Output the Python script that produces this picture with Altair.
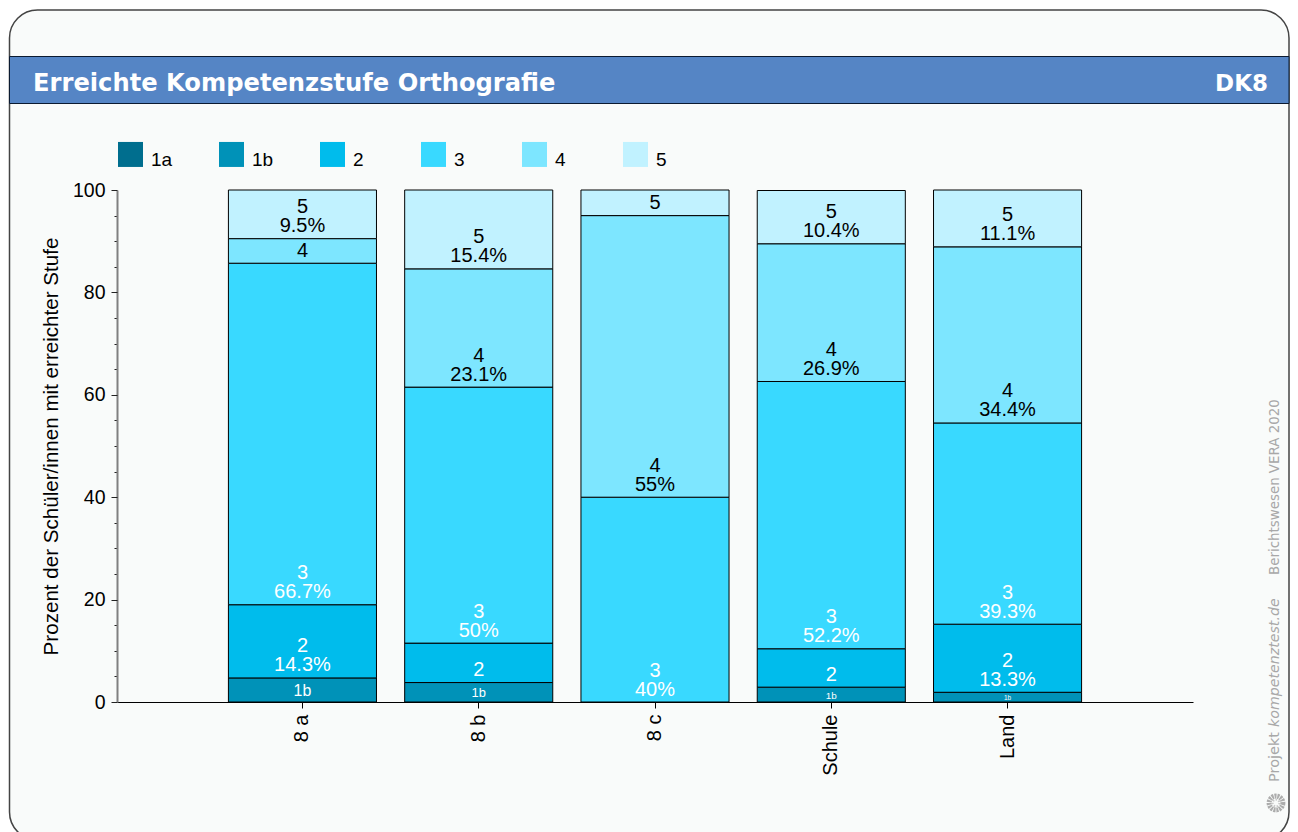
import altair as alt
import pandas as pd

groups = ["8 a", "8 b", "8 c", "Schule", "Land"]
levels = ["1a", "1b", "2", "3", "4", "5"]
level_colors = ["#006e8e", "#0092b8", "#00bcec", "#39d9ff", "#7de6ff", "#c1f2ff"]
shares = {
    "8 a": [0, 4.7, 14.3, 66.7, 4.8, 9.5],
    "8 b": [0, 3.8, 7.7, 50, 23.1, 15.4],
    "8 c": [0, 0, 0, 40, 55, 5],
    "Schule": [0, 2.9, 7.5, 52.2, 26.9, 10.4],
    "Land": [0, 1.9, 13.3, 39.3, 34.4, 11.1],
}
major_ticks = [0, 20, 40, 60, 80, 100]
minor_ticks = [v for v in range(0, 101, 5) if v % 20]

rows = []
for g in groups:
    base = 0
    for lev, v in zip(levels, shares[g]):
        if v > 0:
            rows.append(dict(group=g, level=lev, value=v, y0=base, y1=base + v, ymid=base + v / 2,
                             pct=f"{v:g}%", has_pct=bool(v >= 9)))
        base += v
df = pd.DataFrame(rows)

FONT = "Liberation Sans"
UI = "DejaVu Sans"
PW, PH = 1076, 512
one = alt.Data(values=[{}])

X_AXIS = alt.Axis(title=None, orient="bottom", labelAngle=270, labelFontSize=20, labelFont=FONT, labelColor="black", zindex=1,
                  tickColor="black", tickSize=6, domainColor="black", labelPadding=6, labelBaseline="middle", grid=False)

def X():
    return alt.X("group:N", sort=groups, scale=alt.Scale(domain=groups, paddingInner=0.16, paddingOuter=0.632), axis=X_AXIS)

def Yq(f, **k):
    return alt.Y(f, type="quantitative", scale=alt.Scale(domain=[0, 100], nice=False), **k)

def rect(x, x2, y, y2, **m):
    return alt.Chart(one).mark_rect(**m).encode(
        x=alt.value(x - 117), x2=alt.value(x2 - 117), y=alt.value(y - 190), y2=alt.value(y2 - 190))

def label(txt, x, y, **m):
    return alt.Chart(one).mark_text(font=m.pop("font", UI), **m).encode(
        x=alt.value(x - 117), y=alt.value(y - 190), text=alt.value(txt))

panel = rect(9.5, 1289, 10, 840, fill="#f9fbfa", stroke="#444444", strokeWidth=1.5, cornerRadius=28)
band = rect(9.5, 1289, 56.5, 103.5, fill="#5585c5", stroke="#0b1a30", strokeWidth=1)
title = label("Erreichte Kompetenzstufe Orthografie", 33, 84, align="left", baseline="middle",
              fontSize=24.2, fontWeight="bold", color="white")
code = label("DK8", 1268, 84, align="right", baseline="middle", fontSize=23, fontWeight="bold", color="white")

foot1 = label("Berichtswesen VERA 2020", 1279, 575, angle=270, align="left", baseline="alphabetic", fontSize=13.4, color="#a8a8a8")
foot2 = label("kompetenztest.de", 1279, 727, angle=270, align="left", baseline="alphabetic", fontSize=14.2, fontStyle="italic", color="#a8a8a8")
foot3 = label("Projekt", 1279, 782, angle=270, align="left", baseline="alphabetic", fontSize=14.5, color="#a8a8a8")
logo1 = alt.Chart(one).mark_point(shape="circle", filled=False, size=190, stroke="#8c8c8c", strokeWidth=5, strokeDash=[2, 0.8]).encode(
    x=alt.value(1276 - 117), y=alt.value(803 - 190))
logo2 = alt.Chart(one).mark_point(shape="circle", filled=False, size=45, stroke="#b5b5b5", strokeWidth=2, strokeDash=[1.5, 1.5]).encode(
    x=alt.value(1276 - 117), y=alt.value(803 - 190))

bars = alt.Chart(df).mark_bar(stroke="black", strokeWidth=1).encode(
    x=X(),
    y=Yq("y0", axis=alt.Axis(values=major_ticks, orient="left", title="Prozent der Schüler/innen mit erreichter Stufe", zindex=1,
                             titleFont=FONT, titleFontSize=20.6, titleFontWeight="normal", titleColor="black", titlePadding=11,
                             labelFont=FONT, labelFontSize=19.5, labelColor="black", labelPadding=6,
                             tickColor="#222222", tickSize=6, domain=False, grid=False)),
    y2="y1:Q",
    fill=alt.Fill("level:N", scale=alt.Scale(domain=levels, range=level_colors),
                  legend=alt.Legend(title=None, orient="none", legendX=1, legendY=-42.5, direction="horizontal", columns=6,
                                    gridAlign="all",
                                    symbolType="M-1,-1.464H1V0.536H-1Z", symbolSize=625, symbolStrokeWidth=0,
                                    labelFont=FONT, labelFontSize=19, labelColor="black", labelOffset=8,
                                    columnPadding=46, padding=0)),
)

TEXT_COLOR = alt.condition(alt.FieldOneOfPredicate(field="level", oneOf=["4", "5"]), alt.value("black"), alt.value("white"))

def text_layer(field, selector, dy, size=None, yfield="y0"):
    enc = dict(x=X(), y=Yq(yfield, axis=None), text=f"{field}:N", color=TEXT_COLOR)
    if size is not None:
        enc["size"] = size
    mark = dict(font=FONT, baseline="middle", dy=dy)
    if size is None:
        mark["fontSize"] = 20
    return alt.Chart(df).transform_filter(selector).mark_text(**mark).encode(**enc)

pct_text = text_layer("pct", "datum.has_pct", -12.5)
lvl_upper = text_layer("level", "datum.has_pct", -31.5)
lvl_single = text_layer("level", "!datum.has_pct && datum.level != '1b'", -12.5)
lvl_small = text_layer("level", "!datum.has_pct && datum.level == '1b'", 1, yfield="ymid",
                       size=alt.Size("value:Q", scale=alt.Scale(domain=[0, 5.88], range=[0, 20], clamp=True), legend=None))

minor = alt.Chart(pd.DataFrame({"tick": minor_ticks})).mark_tick(opacity=0).encode(
    y=Yq("tick", axis=alt.Axis(values=minor_ticks, orient="left", title=None, labels=False, domain=True, domainColor="#808080", domainWidth=2,
                               tickSize=3, tickColor="#222222", grid=False, zindex=1)),
)

chart = alt.layer(panel, band, title, code, foot1, foot2, foot3, logo1, logo2, minor, bars,
                  pct_text, lvl_upper, lvl_single, lvl_small).resolve_scale(
    y="independent"
).properties(
    width=PW, height=PH, background="white",
    autosize=alt.AutoSizeParams(type="none"),
    padding={"left": 109, "top": 182, "right": 97, "bottom": 130},
).configure_view(stroke=None)

chart.save("out.html", embed_options={"renderer": "svg", "actions": False})
